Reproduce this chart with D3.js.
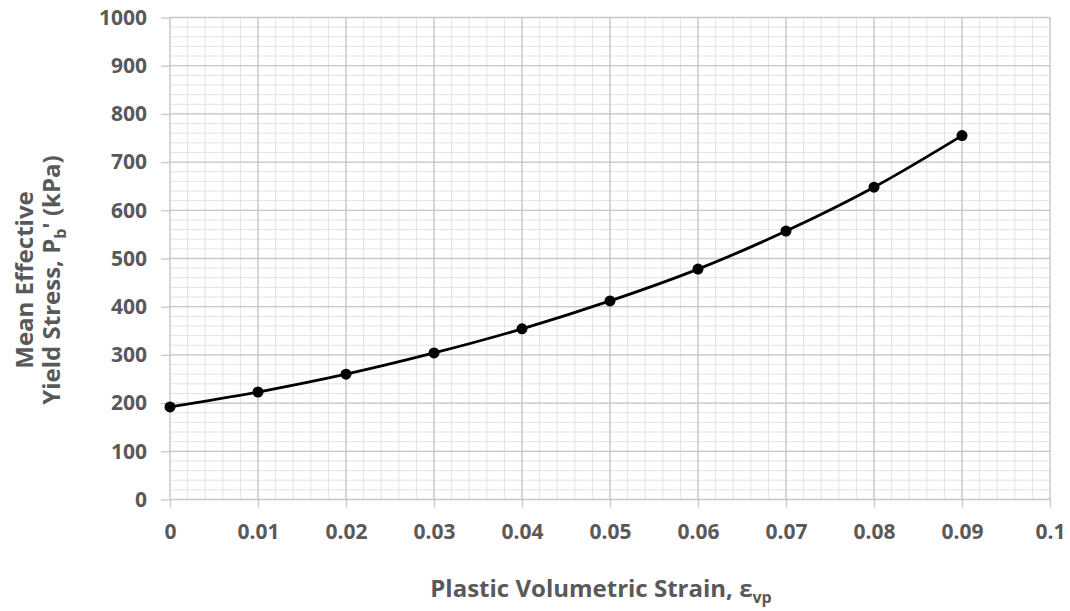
<!DOCTYPE html>
<html>
<head>
<meta charset="utf-8">
<script src="https://cdn.jsdelivr.net/npm/d3@7"></script>
<style>
  body { margin: 0; background: #fff; }
  svg text { font-family: "Open Sans", sans-serif; font-weight: bold; fill: #595959; }
</style>
</head>
<body>
<div id="chart"></div>
<script>
// plastic volumetric strain vs mean effective yield stress
var strain = [0, 0.01, 0.02, 0.03, 0.04, 0.05, 0.06, 0.07, 0.08, 0.09];
var stress = [192, 223, 260, 304, 354, 412, 478, 557, 648, 755];
var xTicks = [0, 0.01, 0.02, 0.03, 0.04, 0.05, 0.06, 0.07, 0.08, 0.09, 0.1];
var yTicks = [0, 100, 200, 300, 400, 500, 600, 700, 800, 900, 1000];

var width = 1070, height = 611;
var margin = {top: 17.5, right: 20, bottom: 111.5, left: 170};
var w = width - margin.left - margin.right;
var h = height - margin.top - margin.bottom;

var svg = d3.select("#chart").append("svg")
    .attr("width", width)
    .attr("height", height);

var g = svg.append("g")
    .attr("transform", "translate(" + margin.left + "," + margin.top + ")");

var x = d3.scaleLinear().domain([0, 0.1]).range([0, w]);
var y = d3.scaleLinear().domain([0, 1000]).range([h, 0]);

// minor grid
var xMinor = d3.range(0, 0.1001, 0.002);
var yMinor = d3.range(0, 1001, 20);
g.append("g").selectAll("line").data(xMinor).enter().append("line")
    .attr("x1", d => x(d)).attr("x2", d => x(d))
    .attr("y1", 0).attr("y2", h)
    .attr("stroke", "#e3e3e3").attr("stroke-width", 1);
g.append("g").selectAll("line").data(yMinor).enter().append("line")
    .attr("x1", 0).attr("x2", w)
    .attr("y1", d => y(d)).attr("y2", d => y(d))
    .attr("stroke", "#e3e3e3").attr("stroke-width", 1);

// major grid
g.append("g").selectAll("line").data(xTicks).enter().append("line")
    .attr("x1", d => x(d)).attr("x2", d => x(d))
    .attr("y1", 0).attr("y2", h)
    .attr("stroke", "#c8c8c8").attr("stroke-width", 1.3);
g.append("g").selectAll("line").data(yTicks).enter().append("line")
    .attr("x1", 0).attr("x2", w)
    .attr("y1", d => y(d)).attr("y2", d => y(d))
    .attr("stroke", "#c8c8c8").attr("stroke-width", 1.3);

// axes
var xAxis = d3.axisBottom(x).tickValues(xTicks).tickSize(8).tickPadding(17)
    .tickFormat(d => d === 0 ? "0" : String(+d.toFixed(2)));
var yAxis = d3.axisLeft(y).tickValues(yTicks).tickSize(9).tickPadding(14)
    .tickFormat(d => String(d));

var gx = g.append("g").attr("transform", "translate(0," + h + ")").call(xAxis);
var gy = g.append("g").call(yAxis);
[gx, gy].forEach(function(a){
    a.select(".domain").remove();
    a.selectAll(".tick line").attr("stroke", "#c8c8c8").attr("stroke-width", 1.3);
    a.selectAll(".tick text").style("font-size", "21px");
});

// curve
var pts = strain.map((d, i) => [d, stress[i]]);
var line = d3.line()
    .x(d => x(d[0])).y(d => y(d[1]))
    .curve(d3.curveCatmullRom.alpha(0.5));
g.append("path").datum(pts)
    .attr("d", line)
    .attr("fill", "none")
    .attr("stroke", "#000")
    .attr("stroke-width", 2.8);

g.selectAll(".pt").data(pts).enter().append("circle")
    .attr("class", "pt")
    .attr("cx", d => x(d[0])).attr("cy", d => y(d[1]))
    .attr("r", 5.5).attr("fill", "#000");

// x title
var xt = svg.append("text")
    .attr("x", 601)
    .attr("y", 597)
    .attr("text-anchor", "middle")
    .style("font-size", "24px");
xt.append("tspan").text("Plastic Volumetric Strain, \u03b5");
xt.append("tspan").attr("dy", 6).style("font-size", "16px").text("vp");

// y title
var yt = svg.append("g").attr("transform", "translate(0,280) rotate(-90)");
yt.append("text").attr("x", 0).attr("y", 33)
    .attr("text-anchor", "middle").style("font-size", "24px")
    .text("Mean Effective");
var yt2 = yt.append("text").attr("x", 0).attr("y", 60)
    .attr("text-anchor", "middle").style("font-size", "24px");
yt2.append("tspan").text("Yield Stress, P");
yt2.append("tspan").attr("dy", 6).style("font-size", "16px").text("b");
yt2.append("tspan").attr("dy", -6).text("' (kPa)");
</script>
</body>
</html>
